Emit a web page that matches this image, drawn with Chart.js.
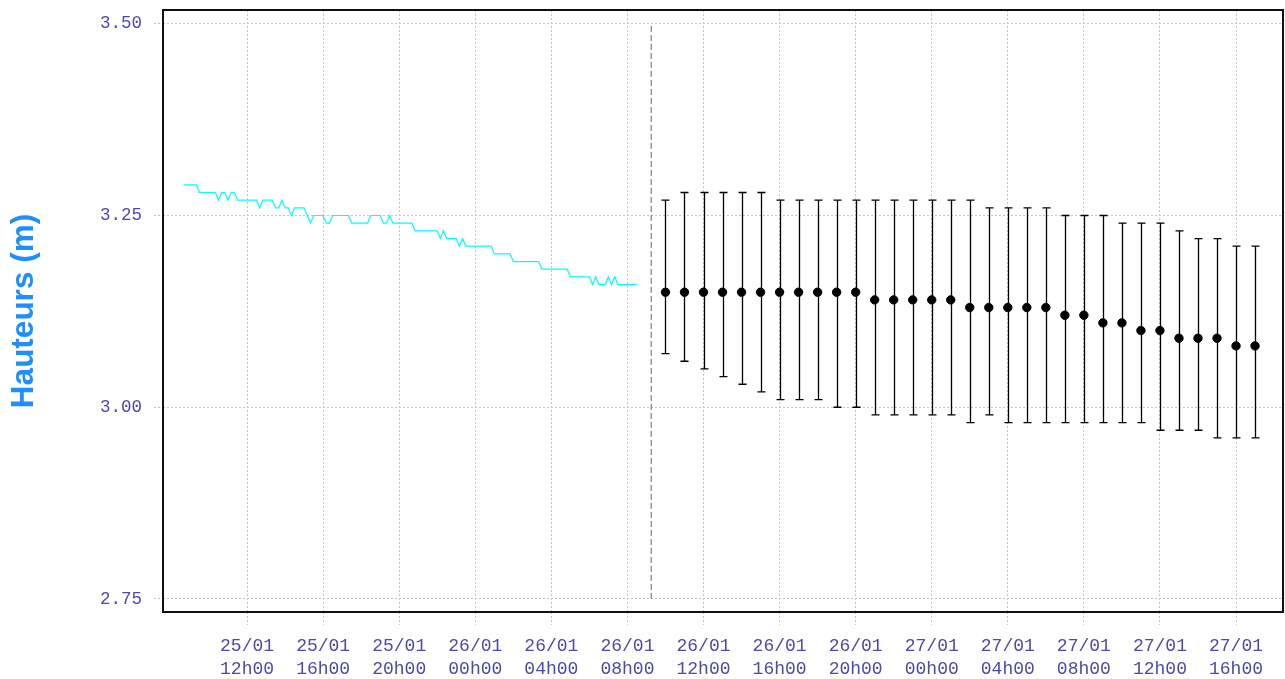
<!DOCTYPE html>
<html>
<head>
<meta charset="utf-8">
<script src="https://cdn.jsdelivr.net/npm/chart.js@4.4.0/dist/chart.umd.min.js"></script>
<style>
  html, body { margin: 0; padding: 0; background: #fff; }
  #wrap { width: 1285px; height: 679px; }
</style>
</head>
<body>
<div id="wrap"><canvas id="hauteurs" width="1285" height="679"></canvas></div>
<script>
// Hauteurs observées, pas de 10 min, à partir du 25/01 08h40
// (temps en heures depuis le 25/01 00h00)
const obsStartHour = 8 + 40 / 60;
const obsStepHour = 10 / 60;
const obsValues = [
    3.29, 3.29, 3.29, 3.29, 3.29,
    3.28, 3.28, 3.28, 3.28, 3.28, 3.28,
    3.27, 3.28, 3.28, 3.27, 3.28, 3.28,
    3.27, 3.27, 3.27, 3.27, 3.27, 3.27, 3.27,
    3.26, 3.27, 3.27, 3.27, 3.27,
    3.26, 3.26, 3.27, 3.26, 3.26, 3.25,
    3.26, 3.26, 3.26, 3.26, 3.25, 3.24,
    3.25, 3.25, 3.25, 3.25, 3.24, 3.24,
    3.25, 3.25, 3.25, 3.25, 3.25, 3.25,
    3.24, 3.24, 3.24, 3.24, 3.24, 3.24,
    3.25, 3.25, 3.25, 3.25, 3.24, 3.24, 3.25,
    3.24, 3.24, 3.24, 3.24, 3.24, 3.24, 3.24,
    3.23, 3.23, 3.23, 3.23, 3.23, 3.23, 3.23, 3.23,
    3.22, 3.23, 3.22, 3.22, 3.22, 3.22, 3.21, 3.22,
    3.21, 3.21, 3.21, 3.21, 3.21, 3.21, 3.21, 3.21, 3.21,
    3.20, 3.20, 3.20, 3.20, 3.20, 3.20,
    3.19, 3.19, 3.19, 3.19, 3.19, 3.19, 3.19, 3.19, 3.19,
    3.18, 3.18, 3.18, 3.18, 3.18, 3.18, 3.18, 3.18, 3.18,
    3.17, 3.17, 3.17, 3.17, 3.17, 3.17, 3.17,
    3.16, 3.17, 3.16, 3.16, 3.16, 3.17, 3.16, 3.17,
    3.16, 3.16, 3.16, 3.16, 3.16, 3.16, 3.16
];

// Prévisions horaires à partir du 26/01 10h00, avec intervalle
const prevStartHour = 34;
const prevValues = [
    3.15, 3.15, 3.15, 3.15, 3.15, 3.15, 3.15, 3.15, 3.15, 3.15, 3.15,
    3.14, 3.14, 3.14, 3.14, 3.14,
    3.13, 3.13, 3.13, 3.13, 3.13,
    3.12, 3.12, 3.11, 3.11, 3.10, 3.10, 3.09, 3.09, 3.09, 3.08, 3.08
];
const prevMin = [
    3.07, 3.06, 3.05, 3.04, 3.03, 3.02, 3.01, 3.01, 3.01, 3.00, 3.00,
    2.99, 2.99, 2.99, 2.99, 2.99,
    2.98, 2.99, 2.98, 2.98, 2.98,
    2.98, 2.98, 2.98, 2.98, 2.98, 2.97, 2.97, 2.97, 2.96, 2.96, 2.96
];
const prevMax = [
    3.27, 3.28, 3.28, 3.28, 3.28, 3.28, 3.27, 3.27, 3.27, 3.27, 3.27,
    3.27, 3.27, 3.27, 3.27, 3.27,
    3.27, 3.26, 3.26, 3.26, 3.26,
    3.25, 3.25, 3.25, 3.24, 3.24, 3.24, 3.23, 3.22, 3.22, 3.21, 3.21
];

// Trait vertical "maintenant"
const nowHour = 33.25;

const xTickHours = [12, 16, 20, 24, 28, 32, 36, 40, 44, 48, 52, 56, 60, 64];
const yTickValues = [2.75, 3.00, 3.25, 3.50];

const tickColor = '#4a4aaa';
const gridColor = '#c4c4c4';

function hourLabel(h) {
    const day = 25 + Math.floor(h / 24);
    const hh = h % 24;
    return [day + '/01', String(hh).padStart(2, '0') + 'h00'];
}

// barres d'erreur des prévisions, dessinées sous les points
const errorBars = {
    id: 'errorBars',
    beforeDatasetsDraw(chart) {
        const { ctx, scales: { x, y } } = chart;
        ctx.save();
        ctx.strokeStyle = '#000';
        ctx.lineWidth = 1.3;
        prevValues.forEach((v, i) => {
            const px = Math.round(x.getPixelForValue(prevStartHour + i)) + 0.5;
            const top = y.getPixelForValue(prevMax[i]);
            const bot = y.getPixelForValue(prevMin[i]);
            ctx.beginPath();
            ctx.moveTo(px, top);
            ctx.lineTo(px, bot);
            ctx.moveTo(px - 4, top);
            ctx.lineTo(px + 4, top);
            ctx.moveTo(px - 4, bot);
            ctx.lineTo(px + 4, bot);
            ctx.stroke();
        });
        ctx.restore();
    }
};

// cadre noir autour de la zone du graphique
const frame = {
    id: 'frame',
    afterDraw(chart) {
        const { ctx, chartArea: a } = chart;
        ctx.save();
        ctx.strokeStyle = '#111';
        ctx.lineWidth = 2;
        ctx.strokeRect(a.left, a.top, a.right - a.left, a.bottom - a.top);
        ctx.restore();
    }
};

const ctx = document.getElementById('hauteurs').getContext('2d');

new Chart(ctx, {
    type: 'scatter',
    data: {
        datasets: [
            {
                label: 'Observations',
                type: 'line',
                data: obsValues.map((v, i) => ({ x: obsStartHour + i * obsStepHour, y: v })),
                borderColor: '#00ffff',
                borderWidth: 1.2,
                pointRadius: 0,
                tension: 0,
                fill: false
            },
            {
                label: 'Maintenant',
                type: 'line',
                data: [{ x: nowHour, y: 2.75 }, { x: nowHour, y: 3.50 }],
                borderColor: '#666',
                borderWidth: 1,
                borderDash: [6, 3],
                pointRadius: 0,
                fill: false
            },
            {
                label: 'Prévisions',
                data: prevValues.map((v, i) => ({ x: prevStartHour + i, y: v })),
                backgroundColor: '#000',
                borderColor: '#000',
                pointRadius: 4.2,
                pointHoverRadius: 4.2
            }
        ]
    },
    options: {
        responsive: false,
        animation: false,
        devicePixelRatio: 1,
        layout: { autoPadding: false, padding: { top: 10, right: 2, left: 0, bottom: 0 } },
        plugins: {
            legend: { display: false },
            tooltip: { enabled: false }
        },
        scales: {
            x: {
                type: 'linear',
                min: 7.58,
                max: 66.47,
                afterBuildTicks(scale) {
                    scale.ticks = xTickHours.map(v => ({ value: v }));
                },
                afterFit(scale) {
                    scale.height = 67;
                    scale.paddingLeft = 0;
                    scale.paddingRight = 0;
                },
                border: { display: false, dash: [2, 2] },
                grid: {
                    color: gridColor,
                    lineWidth: 1,
                    tickLength: 13,
                    tickBorderDash: [2, 2],
                    tickColor: gridColor
                },
                ticks: {
                    autoSkip: false,
                    maxRotation: 0,
                    padding: 10,
                    color: tickColor,
                    font: { family: '"Liberation Mono", "Courier New", monospace', size: 18, lineHeight: 1.28 },
                    callback: (v) => hourLabel(v)
                }
            },
            y: {
                min: 2.733,
                max: 3.518,
                afterBuildTicks(scale) {
                    scale.ticks = yTickValues.map(v => ({ value: v }));
                },
                afterFit(scale) {
                    scale.width = 163;
                    scale.paddingTop = 0;
                    scale.paddingBottom = 0;
                },
                border: { display: false, dash: [2, 2] },
                grid: {
                    color: gridColor,
                    lineWidth: 1,
                    tickLength: 9,
                    tickBorderDash: [2, 2],
                    tickColor: gridColor
                },
                ticks: {
                    padding: 12,
                    color: tickColor,
                    font: { family: '"Liberation Mono", "Courier New", monospace', size: 17.5 },
                    callback: (v) => v.toFixed(2)
                },
                title: {
                    display: true,
                    text: 'Hauteurs (m)',
                    color: '#1e8fff',
                    font: { family: '"Liberation Sans", Arial, sans-serif', size: 31.5, weight: 'bold' },
                    padding: { top: 5, bottom: 0 }
                }
            }
        }
    },
    plugins: [errorBars, frame]
});
</script>
</body>
</html>
